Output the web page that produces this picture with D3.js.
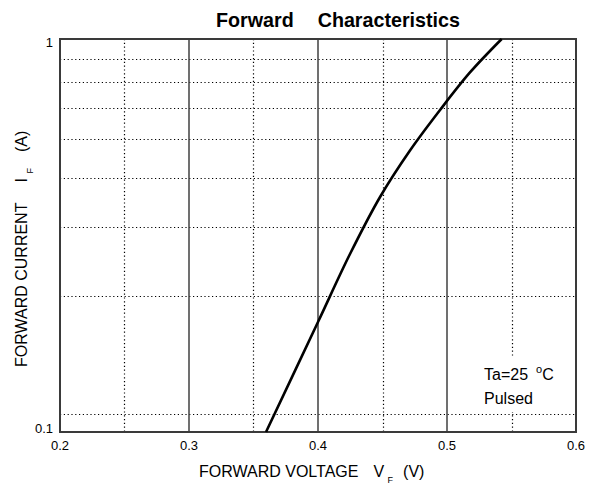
<!DOCTYPE html>
<html>
<head>
<meta charset="utf-8">
<script src="https://cdn.jsdelivr.net/npm/d3@7"></script>
<style>
body { margin: 0; background: #fff; }
text { font-family: Arial, "Liberation Sans", sans-serif; fill: #000; }
</style>
</head>
<body>
<div id="chart"></div>
<script>
// forward voltage (V) vs forward current (A)
var vf = [0.3597, 0.4000, 0.4248, 0.4481, 0.4713, 0.4946, 0.5178, 0.5424];
var iF = [0.100, 0.1905, 0.2837, 0.3963, 0.5203, 0.6597, 0.8219, 1.000];

var xMajor = [0.3, 0.4, 0.5];
var xMinor = [0.25, 0.35, 0.45, 0.55];
var xTicks = [0.2, 0.3, 0.4, 0.5, 0.6];
var yTicks = [1, 0.1];
// the dotted lines in the original sit at k/9, not on the decades
var yGrid = [0.111, 0.222, 0.333, 0.444, 0.556, 0.667, 0.778, 0.889];

var margin = {top: 39, left: 60, right: 22, bottom: 52};
var W = 598, H = 484;
var w = W - margin.left - margin.right, h = H - margin.top - margin.bottom;

var svg = d3.select("#chart").append("svg").attr("width", W).attr("height", H);
var g = svg.append("g").attr("transform", "translate(" + margin.left + "," + margin.top + ")");

var x = d3.scaleLinear().domain([0.2, 0.6]).range([0, w]);
var y = d3.scaleLog().domain([0.1, 1]).range([h, 0]);

// dotted grid
g.selectAll("line.hg").data(yGrid).enter().append("line")
	.attr("class", "hg")
	.attr("x1", 0).attr("x2", w)
	.attr("y1", function (d) { return Math.round(y(d)) + 0.5; })
	.attr("y2", function (d) { return Math.round(y(d)) + 0.5; })
	.attr("stroke", "#000").attr("stroke-width", 1.2).attr("stroke-dasharray", "1.2,2.6");

g.selectAll("line.vg").data(xMinor).enter().append("line")
	.attr("class", "vg")
	.attr("x1", function (d) { return Math.round(x(d)) + 0.5; })
	.attr("x2", function (d) { return Math.round(x(d)) + 0.5; })
	.attr("y1", 0).attr("y2", h)
	.attr("stroke", "#000").attr("stroke-width", 1.2).attr("stroke-dasharray", "1.2,2.6");

g.selectAll("line.vm").data(xMajor).enter().append("line")
	.attr("class", "vm")
	.attr("x1", function (d) { return x(d); })
	.attr("x2", function (d) { return x(d); })
	.attr("y1", 0).attr("y2", h)
	.attr("stroke", "#404040").attr("stroke-width", 1.5);

// white box behind the note
var note = g.append("g").attr("transform", "translate(" + (w - 106) + "," + (h - 74) + ")");
note.append("rect").attr("x", 0).attr("y", 0).attr("width", 104).attr("height", 54).attr("fill", "#fff");
var t1 = note.append("text").attr("x", 14).attr("y", 22).style("font-size", "16px");
t1.append("tspan").text("Ta=25");
t1.append("tspan").attr("dx", 8).attr("dy", -7).style("font-size", "11px").text("o");
t1.append("tspan").attr("dx", 0).attr("dy", 7).text("C");
note.append("text").attr("x", 14).attr("y", 46).style("font-size", "16px").text("Pulsed");

// frame
g.append("rect").attr("width", w).attr("height", h)
	.attr("fill", "none").attr("stroke", "#3a3a3a").attr("stroke-width", 2);

// curve
var pts = vf.map(function (v, i) { return [v, iF[i]]; });
var line = d3.line()
	.x(function (d) { return x(d[0]); })
	.y(function (d) { return y(d[1]); })
	.curve(d3.curveCatmullRom.alpha(0.5));
g.append("path").datum(pts).attr("d", line)
	.attr("fill", "none").attr("stroke", "#000").attr("stroke-width", 2.6);

// tick labels
g.selectAll("text.xt").data(xTicks).enter().append("text")
	.attr("class", "xt")
	.attr("x", function (d) { return x(d); })
	.attr("y", h + 18)
	.attr("text-anchor", "middle")
	.style("font-size", "13px")
	.text(function (d) { return d3.format(".1f")(d); });

g.selectAll("text.yt").data(yTicks).enter().append("text")
	.attr("class", "yt")
	.attr("x", -7)
	.attr("y", function (d) { return y(d) + (d == 1 ? 8 : 1); })
	.attr("text-anchor", "end")
	.style("font-size", "13px")
	.text(function (d) { return d == 1 ? "1" : "0.1"; });

// title
var title = svg.append("text").attr("x", 216).attr("y", 27)
	.style("font-size", "19.7px").style("font-weight", "bold");
title.append("tspan").text("Forward");
title.append("tspan").attr("dx", 24).text("Characteristics");

// x label
var xl = svg.append("text").attr("x", 199).attr("y", 477).style("font-size", "16px");
xl.append("tspan").text("FORWARD VOLTAGE");
xl.append("tspan").attr("dx", 15).text("V");
xl.append("tspan").attr("dx", 3.5).attr("dy", 6).style("font-size", "9px").text("F");
xl.append("tspan").attr("dx", 10).attr("dy", -6).text("(V)");

// y label
var yl = svg.append("text").attr("transform", "translate(27,367) rotate(-90)").style("font-size", "16px");
yl.append("tspan").text("FORWARD CURRENT");
yl.append("tspan").attr("dx", 20).text("I");
yl.append("tspan").attr("dx", 4.5).attr("dy", 6).style("font-size", "9px").text("F");
yl.append("tspan").attr("dx", 16).attr("dy", -6).text("(A)");
</script>
</body>
</html>
